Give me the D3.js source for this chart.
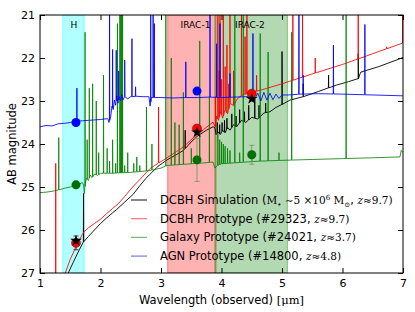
<!DOCTYPE html>
<html><head><meta charset="utf-8">
<script src="https://cdn.jsdelivr.net/npm/d3@7"></script>
<style>body{margin:0;background:#fff}svg{display:block}</style>
</head><body>
<svg id="c" width="415" height="312"></svg>
<script>
// ---------- data ----------
const xTicks = [1,2,3,4,5,6,7];
const yTicks = [21,22,23,24,25,26,27];
const bandNames  = ["H","IRAC-1","IRAC-2"];
const bandStart  = [1.375, 3.11, 3.89];
const bandEnd    = [1.73, 3.91, 5.09];
const bandColors = ["#00ffff","#ff0000","#008000"];
const bandLabelX = [1.56, 3.57, 4.47];

const blackCont = [[1.4,27.3],[1.46,27.02],[1.55,26.75],[1.65,26.46],[1.716,26.28],[1.8,26.15],[1.9,26.0],[2.0,25.85],[2.1,25.72],[2.2,25.6],[2.27,25.52],[2.4,25.35],[2.54,25.17],[2.65,24.97],[2.75,24.8],[2.82,24.7],[2.95,24.52],[3.1,24.37],[3.25,24.25],[3.37,24.15],[3.5,23.95],[3.6,23.82],[3.75,23.68],[3.86,23.6],[3.89,23.62],[3.91,23.78],[3.95,23.72],[3.98,23.78],[4.02,23.68],[4.06,23.74],[4.1,23.62],[4.14,23.68],[4.2,23.55],[4.25,23.6],[4.33,23.45],[4.4,23.5],[4.5,23.38],[4.6,23.42],[4.7,23.28],[4.8,23.25],[4.9,23.15],[5.0,23.08],[5.13,22.98],[5.35,22.9],[5.6,22.78],[5.9,22.63],[6.1,22.55],[6.26,22.48],[6.3,22.33],[6.6,22.2],[7.0,21.99]];
const blackLines = [[1.72,25.15],[3.4,23.68],[3.93,23.5],[3.97,23.55],[4.01,23.5],[4.05,23.45],[4.09,23.4],[4.17,23.3],[4.24,23.35],[4.3,23.2],[4.38,23.25],[4.45,23.1],[4.55,22.95],[4.62,23.1],[4.73,23.05],[5.0,21.85],[5.16,22.52],[5.35,22.6],[5.77,22.4],[6.26,21.9]];

const redCont = [[1.2,27.6],[1.41,27.03],[1.5,26.68],[1.6,26.38],[1.7,26.1],[1.73,26.04],[1.8,25.95],[1.9,25.85],[2.0,25.75],[2.1,25.62],[2.2,25.5],[2.3,25.38],[2.4,25.22],[2.5,25.05],[2.6,24.9],[2.7,24.75],[2.82,24.57],[2.95,24.45],[3.1,24.32],[3.25,24.18],[3.37,24.07],[3.5,23.9],[3.6,23.78],[3.7,23.67],[3.86,23.49],[3.9,23.6],[3.92,23.35],[3.95,23.45],[3.98,23.25],[4.02,23.4],[4.06,23.2],[4.1,23.3],[4.14,23.06],[4.2,23.1],[4.26,22.95],[4.36,22.85],[4.5,22.8],[4.64,22.75],[5.0,22.6],[5.5,22.37],[6.0,22.15],[6.5,21.9],[7.0,21.65]];
const redLines = [[1.26,24.45],[2.96,23.14],[3.9,22.9],[3.94,21.0],[3.96,22.3],[3.975,21.0],[4.0,22.5],[4.03,21.0],[4.06,22.2],[4.09,21.7],[4.12,22.6],[4.14,21.0],[4.2,22.3],[4.33,21.0],[4.39,21.5],[4.42,21.0],[4.58,22.4],[5.18,21.0],[5.34,21.0],[5.55,22.0],[6.26,21.0],[6.73,21.74],[6.995,21.0]];

const greenCont = [[1.0,25.13],[1.1,25.12],[1.2,25.1],[1.3,25.07],[1.4,25.03],[1.5,25.0],[1.6,24.96],[1.7,24.9],[1.72,24.95],[1.735,25.15],[1.75,24.9],[1.77,24.8],[1.8,24.85],[1.83,24.72],[1.86,24.78],[1.9,24.7],[1.95,24.73],[2.0,24.68],[2.2,24.68],[2.5,24.66],[2.8,24.62],[3.0,24.56],[3.1,24.5],[3.3,24.48],[3.5,24.46],[3.7,24.44],[3.86,24.42],[3.89,24.56],[3.93,24.5],[4.0,24.46],[4.3,24.43],[4.6,24.4],[5.0,24.38],[5.5,24.36],[6.0,24.34],[6.5,24.32],[6.95,24.3],[6.97,24.15],[7.0,24.2]];
const greenLines = [[1.31,23.85],[1.745,21.4],[1.78,23.9],[1.815,22.7],[1.87,22.6],[1.93,23.0],[1.97,24.2],[2.05,22.4],[2.11,24.1],[2.15,24.4],[2.2,23.9],[2.25,24.45],[2.28,21.2],[2.32,21.0],[2.335,21.0],[2.35,21.0],[2.365,21.0],[2.4,24.5],[2.45,24.2],[2.55,24.45],[2.6,24.3],[2.65,24.5],[2.76,23.14],[2.85,24.0],[3.08,21.0],[3.17,22.0],[3.23,23.5],[3.3,23.55],[3.37,22.8],[3.5,24.1],[3.64,21.6],[3.8,22.9],[3.94,23.75],[3.97,23.9],[4.0,23.95],[4.03,24.0],[4.06,24.05],[4.1,24.1],[4.14,24.15],[4.22,21.0],[4.3,24.2],[4.36,21.0],[4.5,24.2],[4.64,21.43],[4.77,21.86],[4.95,24.2],[5.16,21.4],[6.06,21.0]];

const blueCont = [[1.0,23.6],[1.1,23.57],[1.2,23.58],[1.3,23.53],[1.4,23.52],[1.5,23.5],[1.6,23.47],[1.7,23.46],[1.8,23.45],[1.9,23.44],[2.0,23.43],[2.12,23.41],[2.14,23.5],[2.17,23.35],[2.19,23.12],[2.21,23.2],[2.23,22.98],[2.25,23.1],[2.27,22.88],[2.29,23.05],[2.31,22.9],[2.33,23.0],[2.35,22.85],[2.37,22.98],[2.4,22.9],[2.45,22.95],[2.5,22.9],[2.6,22.89],[2.7,22.9],[2.8,22.9],[2.82,23.12],[2.84,22.92],[3.0,22.92],[3.2,22.93],[3.4,22.92],[3.6,22.92],[3.8,22.91],[4.0,22.92],[4.2,22.91],[4.4,22.9],[4.5,22.88],[4.55,22.95],[4.6,22.82],[4.65,23.0],[4.7,22.8],[4.75,22.98],[4.8,22.82],[4.85,22.97],[4.9,22.84],[4.95,22.94],[5.0,22.86],[5.1,22.86],[5.3,22.84],[5.6,22.83],[6.0,22.84],[6.5,22.86],[7.0,22.88]];
const blueLines = [[1.61,22.7],[2.15,21.0],[2.2,21.8],[2.26,21.82],[2.3,22.3],[2.4,22.05],[2.52,21.55],[2.58,22.67],[2.83,21.0],[2.87,21.0],[2.89,21.2],[3.41,22.09],[3.81,21.0],[3.92,21.67],[3.975,21.2],[4.14,22.36],[4.52,21.43],[5.28,21.0],[5.35,22.4],[5.85,21.7],[6.37,21.22]];

const photX     = [1.595, 3.595, 4.5];
const redMag    = [26.3, 23.64, 22.83];
const redErr    = [0.16, 0.05, 0.05];
const starMag   = [26.25, 23.73, 22.95];
const greenMag  = [24.95, 24.37, 24.25];
const greenErr  = [0.0, 0.5, 0.22];
const blueMag   = [23.5, 22.77, null];

const legendLabels = ["DCBH Simulation","DCBH Prototype","Galaxy Prototype","AGN Prototype"];
const legendColors = ["#000000","#ff0000","#008000","#0000ff"];

// ---------- layout ----------
const W=415,H=312, m={l:40,r:12,t:15,b:39};
const svg=d3.select("#c");
const x=d3.scaleLinear().domain([1,7]).range([m.l,W-m.r]);
const y=d3.scaleLinear().domain([21,27]).range([m.t,H-m.b]);
const FONT="'DejaVu Sans', sans-serif", SERIF="'DejaVu Serif', serif";

svg.append("defs").append("clipPath").attr("id","clip").append("rect")
  .attr("x",m.l).attr("y",m.t).attr("width",W-m.l-m.r).attr("height",H-m.t-m.b);
const plot=svg.append("g").attr("clip-path","url(#clip)");

// bands
bandNames.forEach((n,i)=>{
  plot.append("rect").attr("x",x(bandStart[i])).attr("y",m.t)
    .attr("width",x(bandEnd[i])-x(bandStart[i])).attr("height",H-m.t-m.b)
    .attr("fill",bandColors[i]).attr("fill-opacity",0.3)
    .attr("stroke",bandColors[i]).attr("stroke-opacity",0.35).attr("stroke-width",1.2);
});

function buildSpectrum(cont, lines){
  const bis=d3.bisector(d=>d[0]).left;
  const base=l=>{const i=Math.max(1,Math.min(cont.length-1,bis(cont,l)));
    const a=cont[i-1],b=cont[i];const t=(l-a[0])/(b[0]-a[0]);return a[1]+t*(b[1]-a[1]);};
  const pts=cont.slice();
  lines.forEach(([l,p])=>{const b=base(l);pts.push([l-0.003,b],[l,p],[l+0.003,b]);});
  pts.sort((a,b)=>a[0]-b[0]);
  return pts;
}
const line=d3.line().x(d=>x(d[0])).y(d=>y(d[1]));
[[blackCont,blackLines,"#000000",0.9],[redCont,redLines,"#ff0000",0.85],[greenCont,greenLines,"#008000",0.8],[blueCont,blueLines,"#0000ff",0.85]]
 .forEach(([c,l,col,op])=>{
  plot.append("path").attr("d",line(buildSpectrum(c,l))).attr("fill","none")
   .attr("stroke",col).attr("stroke-opacity",op).attr("stroke-width",1).attr("stroke-linejoin","round");
 });

// band labels
bandNames.forEach((n,i)=>{
  svg.append("text").attr("x",x(bandLabelX[i])).attr("y",m.t+13).attr("text-anchor","middle")
   .attr("font-family",FONT).attr("font-size",9).text(n);
});

// error bars
function errbar(xv, yv, e, col){
  if(!e) return;
  const g=svg.append("g").attr("stroke",col).attr("stroke-width",1);
  g.append("line").attr("x1",x(xv)).attr("x2",x(xv)).attr("y1",y(yv-e)).attr("y2",y(yv+e));
  [yv-e,yv+e].forEach(v=>g.append("line").attr("x1",x(xv)-2.5).attr("x2",x(xv)+2.5).attr("y1",y(v)).attr("y2",y(v)));
}
photX.forEach((xv,i)=>{ errbar(xv,greenMag[i],greenErr[i],"#7f9f6f"); errbar(xv,redMag[i],redErr[i],"#553333"); });
photX.forEach((xv,i)=>{
  if(blueMag[i]!=null) svg.append("circle").attr("cx",x(xv)).attr("cy",y(blueMag[i])).attr("r",4.5).attr("fill","#0000ff");
  svg.append("circle").attr("cx",x(xv)).attr("cy",y(greenMag[i])).attr("r",4.5).attr("fill","#007000");
  svg.append("circle").attr("cx",x(xv)).attr("cy",y(redMag[i])).attr("r",4.5).attr("fill","#ff0000").attr("stroke","#990000").attr("stroke-width",0.6);
});
const star=d3.symbol().type(d3.symbolStar).size(42);
photX.forEach((xv,i)=>{
  svg.append("path").attr("d",star()).attr("transform",`translate(${x(xv)},${y(starMag[i])})`).attr("fill","#000");
});

// frame and ticks
svg.append("rect").attr("x",m.l).attr("y",m.t).attr("width",W-m.l-m.r).attr("height",H-m.t-m.b)
  .attr("fill","none").attr("stroke","#000").attr("stroke-width",1);
const tl=5;
const gb=svg.append("g").attr("transform",`translate(0,${H-m.b})`).call(d3.axisBottom(x).tickValues(xTicks).tickSize(-tl).tickPadding(6).tickFormat(d3.format("d")));
const gt=svg.append("g").attr("transform",`translate(0,${m.t})`).call(d3.axisTop(x).tickValues(xTicks).tickSize(-tl).tickFormat(""));
const gl=svg.append("g").attr("transform",`translate(${m.l},0)`).call(d3.axisLeft(y).tickValues(yTicks).tickSize(-tl).tickPadding(5).tickFormat(d3.format("d")));
const gr=svg.append("g").attr("transform",`translate(${W-m.r},0)`).call(d3.axisRight(y).tickValues(yTicks).tickSize(-tl).tickFormat(""));
[gb,gt,gl,gr].forEach(g=>{g.select(".domain").remove();
  g.selectAll("text").attr("font-family",FONT).attr("font-size",11).attr("fill","#000");
  g.selectAll("line").attr("stroke","#000");});

// axis labels
svg.append("text").attr("x",(m.l+W-m.r)/2).attr("y",H-8).attr("text-anchor","middle")
  .attr("font-family",FONT).attr("font-size",11.5)
  .call(t=>{t.append("tspan").text("Wavelength (observed) ");
           t.append("tspan").attr("font-family",SERIF).text("[μm]");});
svg.append("text").attr("transform",`translate(16,${(m.t+H-m.b)/2}) rotate(-90)`).attr("text-anchor","middle")
  .attr("font-family",FONT).attr("font-size",11.5).text("AB magnitude");

// legend
const legY0=200, legDY=18.7;
legendLabels.forEach((lab,i)=>{
  const yy=legY0+i*legDY;
  svg.append("line").attr("x1",131).attr("x2",147).attr("y1",yy).attr("y2",yy)
    .attr("stroke",legendColors[i]).attr("stroke-opacity",i===0?0.8:0.55).attr("stroke-width",1.2);
  const t=svg.append("text").attr("x",160).attr("y",yy+4).attr("font-family",FONT).attr("font-size",11.5);
  if(i===0){
    t.append("tspan").text(lab+" (");
    t.append("tspan").attr("font-family",SERIF).attr("font-size",10.5).text("M");
    t.append("tspan").attr("font-family",SERIF).attr("font-size",7).attr("dy",2.5).text("•");
    t.append("tspan").attr("font-family",SERIF).attr("font-size",10.5).attr("dy",-2.5).text(" ∼5 ×10");
    t.append("tspan").attr("font-family",SERIF).attr("font-size",7).attr("dy",-4).text("6");
    t.append("tspan").attr("font-family",SERIF).attr("font-size",10.5).attr("dy",4).text(" M");
    t.append("tspan").attr("font-family",SERIF).attr("font-size",7).attr("dy",2.5).text("⊙");
    t.append("tspan").attr("dy",-2.5).text(", ");
    t.append("tspan").attr("font-family",SERIF).attr("font-style","italic").attr("font-size",10.5).text("z");
    t.append("tspan").attr("font-family",SERIF).attr("font-size",10.5).text("≈9.7)");
  } else {
    const ids=["","#29323","#24021","#14800"], zs=["","9.7","3.7","4.8"];
    t.append("tspan").text(`${lab} (${ids[i]}, `);
    t.append("tspan").attr("font-family",SERIF).attr("font-style","italic").attr("font-size",10.5).text("z");
    t.append("tspan").attr("font-family",SERIF).attr("font-size",10.5).text(`≈${zs[i]})`);
  }
});
</script>
</body></html>
